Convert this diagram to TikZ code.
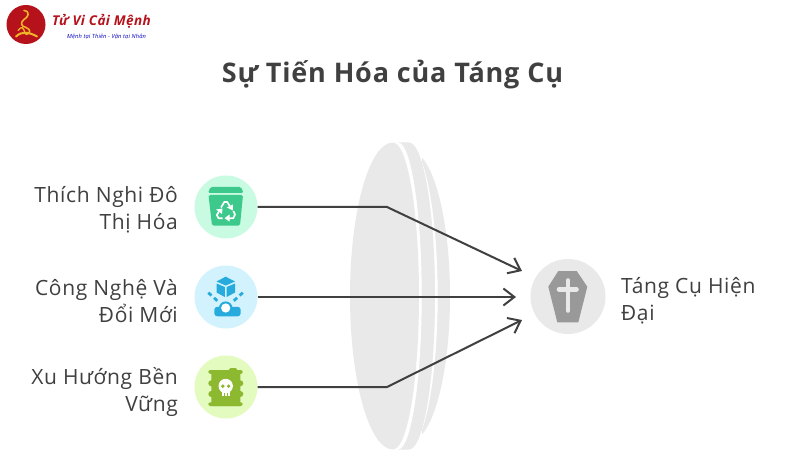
\documentclass[tikz,border=0pt]{standalone}
\usepackage{fontspec}
\setmainfont[LetterSpace=3]{Open Sans}
\usetikzlibrary{arrows.meta}
\definecolor{ink}{HTML}{404040}
\definecolor{lens}{HTML}{E9E9E9}
\definecolor{greenbg}{HTML}{C9FBE3}
\definecolor{greenic}{HTML}{3DC98C}
\definecolor{bluebg}{HTML}{D2F3FE}
\definecolor{blueic}{HTML}{27ABDC}
\definecolor{limebg}{HTML}{E4FBC0}
\definecolor{limeic}{HTML}{8CB92F}
\definecolor{coffin}{HTML}{999999}
\definecolor{logored}{HTML}{B5121B}
\definecolor{logogold}{HTML}{F0B429}
\tikzset{
 hub/.style={circle,inner sep=0pt,minimum size=63pt},
 lbl/.style={text=ink,font=\fontsize{21}{27}\selectfont,align=right,anchor=east,inner sep=0pt},
 link/.style={draw=ink,line width=2pt,line join=miter},
 tip/.style={-{Straight Barb[length=11pt,width=17pt,line width=2pt]}},
}
\begin{document}
\begin{tikzpicture}[x=1pt,y=-1pt]
\useasboundingbox (0,0) rectangle (800,473);
\fill[white] (0,0) rectangle (800,473);
% logo
\fill[logored] (26,24.5) circle (19.5);
\begin{scope}[xshift=-2pt,yshift=2.5pt]
\draw[logogold,line width=1.6pt,line cap=round,line join=round]
  (26,13) .. controls (33,14) and (30,20) .. (26,22) .. controls (22,25) and (23,29) .. (28,30)
  .. controls (33,32) and (33,36) .. (28,37);
\draw[logogold,line width=2pt,line cap=round] (18,39) .. controls (24,33) and (32,35) .. (39,39);
\draw[logogold,line width=1.3pt,line cap=round] (20,33) .. controls (24,28) and (25,30) .. (27,35);
\end{scope}
\node[inner sep=0pt,text=logored,anchor=west,font=\fontsize{13.5}{14}\selectfont\bfseries\itshape] (brand) at (52,21) {Tử Vi Cải Mệnh};
\node[inner sep=0pt,text=blue!75!black,anchor=west,font=\fontsize{5.7}{6}\selectfont\itshape] (motto) at (67,37) {Mệnh tại Thiên - Vận tại Nhân};
% title
\node[inner sep=0pt,text=ink,font=\fontsize{27}{30}\selectfont\bfseries] (title) at (392.5,75) {Sự Tiến Hóa của Táng Cụ};
% lens
\begin{scope}
\clip (422,140) rectangle (455,455);
\fill[lens] (410,296) ellipse [x radius=40,y radius=145];
\end{scope}
\fill[white] (407,296) ellipse [x radius=30.7,y radius=153.5];
\fill[lens] (398,142.5) -- (409,142.5) .. controls (423.4,142.5) and (435,211.2) .. (435,296)
  .. controls (435,380.8) and (423.4,449.5) .. (409,449.5) -- (398,449.5) -- cycle;
\fill[white] (393,142.5) -- (398,142.5) .. controls (411,142.5) and (421.7,211.2) .. (421.7,296)
  .. controls (421.7,380.8) and (411,449.5) .. (398,449.5) -- (393,449.5) -- cycle;
\fill[lens] (393,142.5) .. controls (407.4,142.5) and (419,211.2) .. (419,296)
  .. controls (419,380.8) and (407.4,449.5) .. (393,449.5)
  .. controls (369.25,449.5) and (350,380.8) .. (350,296)
  .. controls (350,211.2) and (369.25,142.5) .. (393,142.5) -- cycle;
% hubs
\node[hub,fill=greenbg] (n1) at (226,207) {};
\node[hub,fill=bluebg] (n2) at (226,297) {};
\node[hub,fill=limebg] (n3) at (226,387) {};
\node[circle,inner sep=0pt,minimum size=75pt,fill=lens] (goal) at (568,296.5) {};
% labels
\node[lbl] (l1) at (178,209.5) {Thích Nghi Đô\\Thị Hóa};
\node[lbl] (l2) at (178,301) {Công Nghệ Và\\Đổi Mới};
\node[lbl] (l3) at (178,391.5) {Xu Hướng Bền\\Vững};
\node[lbl,anchor=west,align=left] (l4) at (621,301) {Táng Cụ Hiện\\Đại};
% connectors
\coordinate (b1) at (387,207);
\coordinate (b3) at (387,387);
\coordinate (e1) at (522,271);
\coordinate (e2) at (516,297);
\coordinate (e3) at (522,320);
\draw[link,tip] (n1.east) -- (b1) -- (e1);
\draw[link,tip] (n2.east) -- (e2);
\draw[link,tip] (n3.east) -- (b3) -- (e3);
% recycle bin
\fill[greenic,rounded corners=1.5pt] (208,193) -- (210.5,187) -- (241,187) -- (243.5,193) -- cycle;
\fill[greenic,rounded corners=1.5pt] (208.5,195) -- (243,195) -- (240,225.5) -- (212,225.5) -- cycle;
\begin{scope}[white,line width=1.7pt,line join=round]
\draw (221,207.5) -- (224.3,202) -- (227.2,202) -- (230,206.5);
\fill (226.8,207.5) -- (232.8,204.5) -- (232.8,210.5) -- cycle;
\draw (233.4,211) -- (235,214.5) -- (233.3,218.2) -- (229,218.2);
\fill (229.5,214.5) -- (229.5,221.5) -- (224.5,218.2) -- cycle;
\draw (222.5,218.2) -- (218.5,218.2) -- (216.9,215) -- (219.5,210.5);
\fill (216,209.5) -- (222.5,208.5) -- (222,214) -- cycle;
\end{scope}
% cube and base
\begin{scope}[blueic]
\fill (225.7,276.7) -- (235,281.5) -- (225.7,285.5) -- (216.5,281.5) -- cycle;
\fill (216.5,283.5) -- (224.8,287) -- (224.8,297) -- (216.5,292.5) -- cycle;
\fill (235,283.5) -- (226.7,287) -- (226.7,297) -- (235,292.5) -- cycle;
\draw[line width=2.8pt] (208.3,292.7) -- (211.5,295.5) (214,297.8) -- (217.3,300.8);
\draw[line width=2.8pt] (242.8,292.7) -- (239.6,295.5) (237.1,297.8) -- (233.8,300.8);
\fill[rounded corners=3pt] (214.3,316.3) -- (214.3,306.8) -- (240.7,306.8) -- (240.7,316.3) -- cycle;
\fill (225.7,308.3) circle (6.9);
\fill[white] (225.7,308) circle (4.6);
\end{scope}
% barrel
\begin{scope}[limeic]
\fill[rounded corners=1.5pt] (229,372) -- (229,368) -- (237,368) -- (237,372) -- cycle;
\fill[rounded corners=1pt] (211.3,370) rectangle (240.3,406);
\fill[rounded corners=1.5pt] (208.3,370) rectangle (242.7,373.8);
\fill[rounded corners=1.5pt] (208.3,402.4) rectangle (242.7,406);
\fill (211.3,383.3) circle (3) (240.3,383.3) circle (3) (211.3,394) circle (3) (240.3,394) circle (3);
\fill[white] (225.7,386) circle (7.2);
\fill[white] (221.5,390) rectangle (230,396);
\fill[limeic] (222.8,386.2) circle (1.9) (228.6,386.2) circle (1.9);
\draw[limeic,line width=.8pt] (224,392.5) -- (224,396) (227.4,392.5) -- (227.4,396);
\end{scope}
% coffin
\fill[coffin] (558.3,271) -- (576.7,271) -- (587.3,286.7) -- (578.3,322.3) -- (557.3,322.3) -- (548.3,286.7) -- cycle;
\draw[lens,line width=4.6pt,line cap=round] (568,280.5) -- (568,310.5) (559,289.3) -- (576.5,289.3);
\end{tikzpicture}
\end{document}
